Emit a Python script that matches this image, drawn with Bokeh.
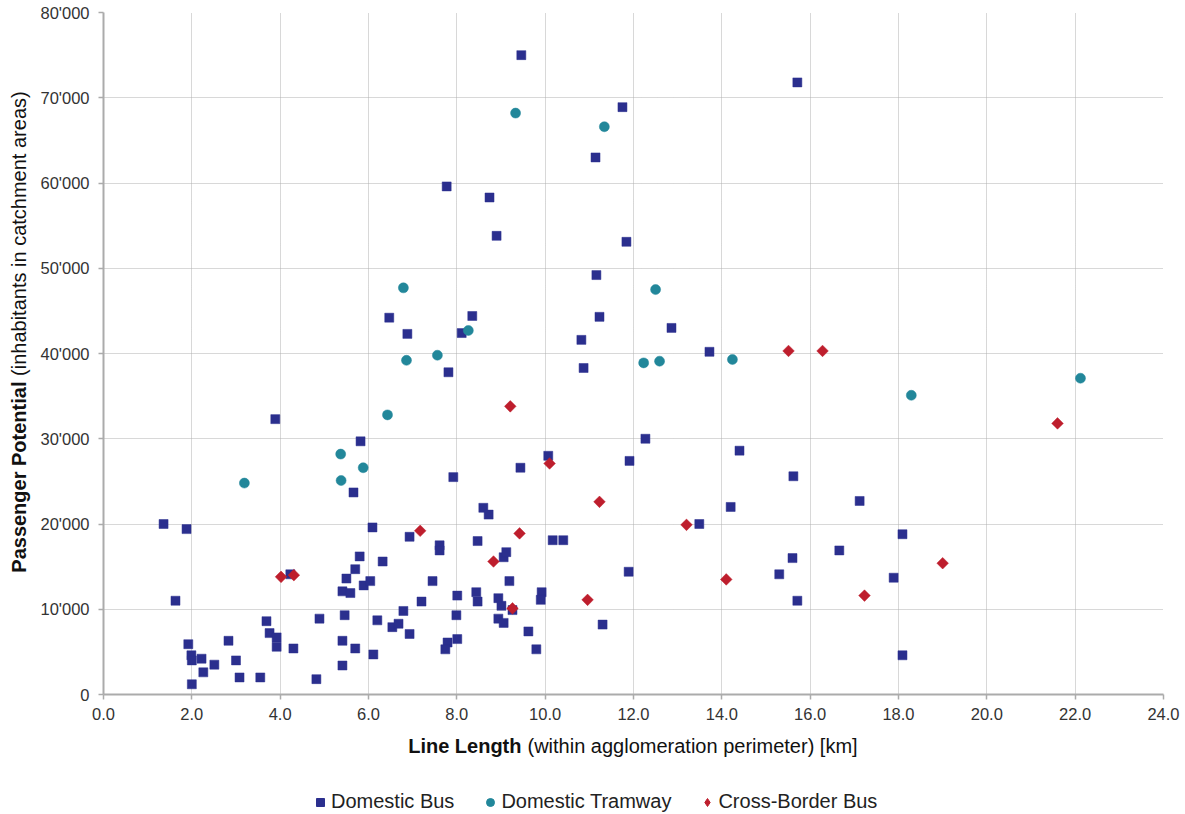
import numpy as np
from bokeh.plotting import figure
from bokeh.layouts import column, row
from bokeh.models import (Range1d, FixedTicker, NumeralTickFormatter, CustomJSTickFormatter,
                          Label, Legend, LegendItem)
from bokeh.embed import file_html
from bokeh.resources import INLINE

# ---- data ----
bus_x = [1.36, 1.88, 1.63, 1.92, 1.99, 2.00, 2.00, 2.22, 2.26, 2.51, 2.83, 3.00, 3.08, 3.55, 3.69,
         3.76, 3.92, 3.92, 3.89, 4.23, 4.30, 4.82, 4.89, 5.41, 5.41, 5.41, 5.46, 5.50, 5.59, 5.66,
         5.70, 5.70, 5.80, 5.82, 5.89, 6.04, 6.09, 6.11, 6.20, 6.32, 6.54, 6.68, 6.79, 6.93, 6.93,
         7.20, 7.45, 7.61, 7.61, 7.81, 7.92, 8.01, 7.99, 8.01, 7.79, 7.74, 8.47, 8.44, 8.47, 8.60,
         8.72, 8.94, 9.01, 8.94, 9.06, 9.06, 9.12, 9.19, 9.26, 9.44, 9.62, 9.80, 9.92, 9.90, 10.07,
         10.17, 10.41, 10.87, 10.82, 11.30, 11.89, 11.91, 12.27, 13.49, 13.72, 14.20, 14.40, 15.30,
         15.60, 15.62, 15.71, 16.66, 17.12, 17.89, 18.09, 18.09, 9.46, 11.75, 11.14, 7.77, 8.74,
         8.90, 11.84, 11.16, 11.23, 12.86, 6.47, 6.88, 8.35, 8.11, 15.71]
bus_y = [20000, 19400, 11000, 5900, 4600, 4000, 1200, 4200, 2600, 3500, 6300, 4000, 2000, 2000, 8600,
         7200, 6700, 5600, 32300, 14100, 5400, 1800, 8900, 3400, 6300, 12100, 9300, 13600, 11900, 23700,
         14700, 5400, 16200, 29700, 12800, 13300, 19600, 4700, 8700, 15600, 7900, 8300, 9800, 7100, 18500,
         10900, 13300, 17500, 16900, 37800, 25500, 11600, 9300, 6500, 6100, 5300, 18000, 12000, 10900, 21900,
         21100, 11300, 10400, 8900, 8400, 16100, 16700, 13300, 9900, 26600, 7400, 5300, 12000, 11100, 28000,
         18100, 18100, 38300, 41600, 8200, 14400, 27400, 30000, 20000, 40200, 22000, 28600, 14100,
         16000, 25600, 11000, 16900, 22700, 13700, 18800, 4600, 75000, 68900, 63000, 59600, 58300,
         53800, 53100, 49200, 44300, 43000, 44200, 42300, 44400, 42400, 71800]

tram_x = [9.33, 11.34, 6.79, 12.50, 8.26, 7.56, 6.86, 12.23, 12.59, 14.24, 6.43, 18.29, 22.12,
          3.19, 5.37, 5.38, 5.88]
tram_y = [68200, 66600, 47700, 47500, 42700, 39800, 39200, 38900, 39100, 39300, 32800, 35100, 37100,
          24800, 28200, 25100, 26600]

cb_x = [4.02, 4.31, 7.17, 9.21, 10.10, 9.42, 8.83, 9.26, 11.23, 10.96, 13.20, 14.10, 15.51, 16.28,
        21.60, 19.00, 17.23]
cb_y = [13800, 14000, 19200, 33800, 27100, 18900, 15600, 10100, 22600, 11100, 19900, 13500, 40300, 40300,
        31800, 15400, 11600]

series_names = ["Domestic Bus", "Domestic Tramway", "Cross-Border Bus"]
x_ticks = [0, 2, 4, 6, 8, 10, 12, 14, 16, 18, 20, 22, 24]
y_ticks = [0, 10000, 20000, 30000, 40000, 50000, 60000, 70000, 80000]
x_title_bold = "Line Length"
x_title_rest = "(within agglomeration perimeter) [km]"
y_title_bold = "Passenger Potential"
y_title_rest = "(inhabitants in catchment areas)"

BUS = "#2B2F8E"
TRAM = "#22879A"
CB = "#BE1E2D"
FONT = "Liberation Sans"
TITLE_COLOR = "#111111"

W, H = 1185, 814
LEFT_W = 37          # strip holding the y-axis title
MAIN_H = 730         # main plot height (frame + x tick labels)
BOT_H = H - MAIN_H   # strip holding x-axis title and legend


def blank_fig(width, height):
    f = figure(width=width, height=height, output_backend="svg", toolbar_location=None,
               x_range=Range1d(0, width), y_range=Range1d(0, height),
               x_axis_type=None, y_axis_type=None,
               min_border=0, min_border_left=0, min_border_right=0,
               min_border_top=0, min_border_bottom=0)
    f.outline_line_color = None
    f.background_fill_color = "white"
    f.border_fill_color = "white"
    return f


# ---------------- main scatter plot ----------------
p = figure(width=W - LEFT_W, height=MAIN_H, output_backend="svg", toolbar_location=None,
           x_range=Range1d(0, 24), y_range=Range1d(0, 80000),
           min_border_left=103 - LEFT_W, min_border_right=22, min_border_top=12,
           min_border_bottom=MAIN_H - 694)
p.outline_line_color = None
p.background_fill_color = "white"
p.border_fill_color = "white"

for ax in (p.xaxis[0], p.yaxis[0]):
    ax.axis_line_color = "#ABABAB"
    ax.axis_line_width = 2
    ax.major_tick_line_color = "#ABABAB"
    ax.major_tick_line_width = 1.5
    ax.major_tick_out = 5
    ax.major_tick_in = 0
    ax.minor_tick_line_color = None
    ax.major_label_text_font = FONT
    ax.major_label_text_font_size = "16.5px"
    ax.major_label_text_color = "#333333"

p.xaxis.ticker = FixedTicker(ticks=x_ticks)
p.xaxis.formatter = NumeralTickFormatter(format="0.0")
p.xaxis.major_label_standoff = 8
p.yaxis.ticker = FixedTicker(ticks=y_ticks)
p.yaxis.formatter = CustomJSTickFormatter(
    code="return Math.round(tick).toString().replace(/\\B(?=(\\d{3})+(?!\\d))/g, \"'\");")
p.yaxis.major_label_standoff = 9

for g in (p.xgrid[0], p.ygrid[0]):
    g.grid_line_color = "#B0B0B0"
    g.grid_line_dash = "1 1"
    g.grid_line_width = 1

p.scatter(bus_x, bus_y, marker="square", size=9, fill_color=BUS, line_color=BUS, line_width=0.5)
p.scatter(tram_x, tram_y, marker="circle", size=10, fill_color=TRAM, line_color=TRAM, line_width=0.5)
p.scatter(cb_x, cb_y, marker="square", angle=np.pi / 4, size=8.2, fill_color=CB, line_color=CB,
          line_width=0.5)

# ---------------- left strip: y-axis title ----------------
yl = blank_fig(LEFT_W, MAIN_H)
yl.add_layout(Label(x=18, y=MAIN_H - 395, text=y_title_bold, angle=np.pi / 2,
                    text_font=FONT, text_font_size="20px", text_font_style="bold",
                    text_align="right", text_baseline="middle", text_color=TITLE_COLOR))
yl.add_layout(Label(x=18, y=MAIN_H - 389, text=y_title_rest, angle=np.pi / 2,
                    text_font=FONT, text_font_size="20px", text_font_style="normal",
                    text_align="left", text_baseline="middle", text_color=TITLE_COLOR))

# ---------------- bottom strip: x-axis title and legend ----------------
bt = blank_fig(W, BOT_H)
bt.add_layout(Label(x=521, y=BOT_H - (745 - MAIN_H), text=x_title_bold,
                    text_font=FONT, text_font_size="20px", text_font_style="bold",
                    text_align="right", text_baseline="middle", text_color=TITLE_COLOR))
bt.add_layout(Label(x=527, y=BOT_H - (745 - MAIN_H), text=x_title_rest,
                    text_font=FONT, text_font_size="20px", text_font_style="normal",
                    text_align="left", text_baseline="middle", text_color=TITLE_COLOR))

# legend swatches: the same series in this strip; all their values lie far above the
# strip's 0..84 range so nothing but the legend swatches is visible here
lg_bus = bt.scatter(bus_x, bus_y, marker="square", fill_color=BUS, line_color=BUS)
lg_tram = bt.scatter(tram_x, tram_y, marker="circle", fill_color=TRAM, line_color=TRAM)
lg_cb = bt.scatter(cb_x, cb_y, marker="diamond", fill_color=CB, line_color=CB)
legend = Legend(items=[LegendItem(label=series_names[0], renderers=[lg_bus]),
                       LegendItem(label=series_names[1], renderers=[lg_tram]),
                       LegendItem(label=series_names[2], renderers=[lg_cb])],
                orientation="horizontal", location=(310, BOT_H - (799 - MAIN_H) - 14),
                glyph_width=20, glyph_height=20, label_standoff=1, spacing=26,
                padding=4, margin=0, border_line_color=None, background_fill_alpha=0,
                label_text_font=FONT, label_text_font_size="20px", label_text_color="#222222",
                label_height=20)
bt.add_layout(legend, "center")

layout = column(row(yl, p, spacing=0), bt, spacing=0)
open("out.html", "w").write(file_html(layout, INLINE))
